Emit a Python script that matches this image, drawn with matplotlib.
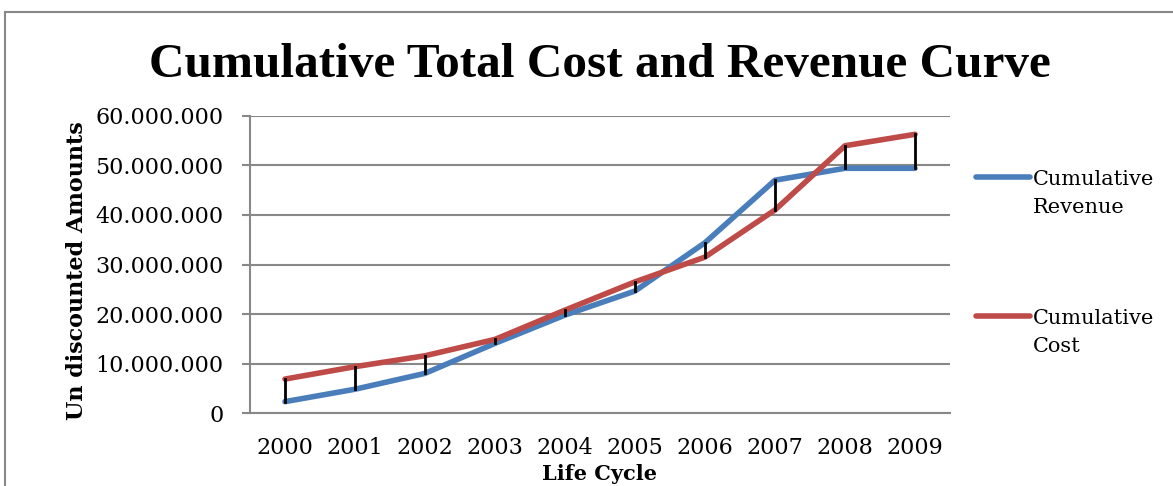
import numpy as np
import matplotlib.pyplot as plt
from matplotlib.lines import Line2D
from matplotlib.legend_handler import HandlerLine2D
from matplotlib.ticker import FuncFormatter

years = ['2000', '2001', '2002', '2003', '2004', '2005', '2006', '2007', '2008', '2009']
revenue = [2.35e6, 4.85e6, 8.05e6, 14.1e6, 19.8e6, 24.65e6, 34.4e6, 47.0e6, 49.4e6, 49.4e6]
cost = [6.9e6, 9.4e6, 11.6e6, 14.9e6, 20.8e6, 26.5e6, 31.5e6, 41.0e6, 53.95e6, 56.25e6]

plt.rcParams['font.family'] = ['DejaVu Serif']


class TopAlignedLine(HandlerLine2D):
    # put the legend line next to the first row of a two-row label
    def create_artists(self, legend, orig_handle, xdescent, ydescent, width, height, fontsize, trans):
        artists = super().create_artists(legend, orig_handle, xdescent, ydescent, width, height, fontsize, trans)
        for a in artists:
            a.set_ydata(np.asarray(a.get_ydata()) + 0.8 * fontsize)
        return artists


fig = plt.figure(figsize=(11.73, 4.86), dpi=100)
ax = fig.add_axes([0.2131, 0.1496, 0.5968, 0.6123])

x = list(range(len(years)))

# high-low lines between the two curves
for i in x:
    ax.plot([i, i], [revenue[i], cost[i]], color='black', lw=2, zorder=4)

ax.plot(x, revenue, color='#4a7ebb', lw=4, solid_capstyle='round', zorder=3, label='Cumulative\nRevenue')
ax.plot(x, cost, color='#be4b48', lw=4, solid_capstyle='round', zorder=3, label='Cumulative\nCost')

ax.set_xlim(-0.5, 9.5)
ax.set_ylim(0, 60e6)
ax.set_yticks(range(0, 60000001, 10000000))
ax.yaxis.set_major_formatter(FuncFormatter(lambda v, p: f'{int(v):,}'.replace(',', '.')))
ax.set_xticks(x)
ax.set_xticklabels(years)

ax.grid(axis='y', color='#888888', lw=1.5)
ax.set_axisbelow(True)
for s in ['top', 'right']:
    ax.spines[s].set_visible(False)
for s in ['left', 'bottom']:
    ax.spines[s].set_color('#888888')
    ax.spines[s].set_linewidth(1.5)
ax.tick_params(axis='y', length=6, width=1.5, color='#888888', labelsize=16, pad=13)
ax.tick_params(axis='x', length=0, labelsize=16, pad=17)

ax.set_ylabel('Un discounted Amounts', fontsize=16, fontweight='bold')
ax.yaxis.set_label_coords(-0.231, 0.48)
fig.text(0.5115, 1 - 464 / 486, 'Life Cycle', ha='center', va='top', fontsize=15, fontweight='bold')

fig.text(0.511, 0.866, 'Cumulative Total Cost and Revenue Curve', ha='center', va='center',
         fontsize=35.5, fontweight='bold', family='Liberation Serif')

leg = ax.legend(loc='upper left', bbox_to_anchor=(1.01, 0.88), frameon=False, fontsize=15,
                handlelength=2.6, handletextpad=0.15, labelspacing=4.4,
                handler_map={Line2D: TopAlignedLine()})
for t in leg.get_texts():
    t.set_linespacing(1.6)

# outer chart frame
fig.add_artist(Line2D([5 / 1173, 5 / 1173], [0, 1 - 12.5 / 486], color='#888888', lw=1.5))
fig.add_artist(Line2D([5 / 1173, 1], [1 - 12.5 / 486, 1 - 12.5 / 486], color='#888888', lw=1.5))

fig.savefig('out.png', dpi=100)
